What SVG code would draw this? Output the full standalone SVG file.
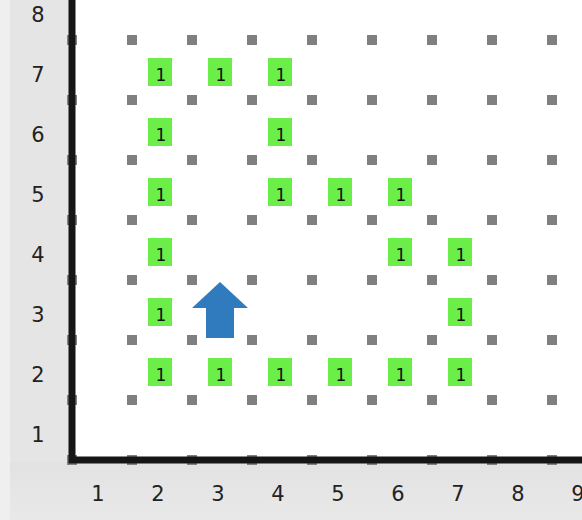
<svg xmlns="http://www.w3.org/2000/svg" width="582" height="520" viewBox="0 0 582 520">
<defs>
<style>
.dot{fill:#808080}
.bp rect{fill:#6cee48}
.bp text{font-family:"DejaVu Sans",sans-serif;font-size:17px;fill:#111;text-anchor:middle}
.lab{font-family:"DejaVu Sans",sans-serif;font-size:21px;fill:#222;text-anchor:middle}
.axis{stroke:#151515;stroke-width:7;fill:none}
</style>
<rect id="d" class="dot" x="-5" y="-5" width="10" height="10"/>
<g id="row">
<use href="#d" x="72"/><use href="#d" x="132"/><use href="#d" x="192"/><use href="#d" x="252"/><use href="#d" x="312"/><use href="#d" x="372"/><use href="#d" x="432"/><use href="#d" x="492"/><use href="#d" x="552"/>
</g>
<g id="beeper" class="bp"><rect x="-12" y="-14" width="24" height="28"/><text x="1" y="9">1</text></g>
<linearGradient id="bg" x1="0" y1="0" x2="0" y2="1"><stop offset="0" stop-color="#e2e2e2"/><stop offset="1" stop-color="#e9e9e9"/></linearGradient>
</defs>
<rect x="0" y="0" width="582" height="520" fill="#e5e5e5"/>
<rect x="0" y="462" width="582" height="58" fill="url(#bg)"/>
<rect x="0" y="0" width="10" height="520" fill="#efefef"/>
<rect x="72" y="0" width="510" height="460" fill="#ffffff"/>
<g id="grid">
<use href="#row" y="40"/><use href="#row" y="100"/><use href="#row" y="160"/><use href="#row" y="220"/><use href="#row" y="280"/><use href="#row" y="340"/><use href="#row" y="400"/><use href="#row" y="460"/>
</g>
<path id="axes" class="axis" d="M72,0 V460 H582"/>
<g id="ylabels">
<text class="lab" x="38" y="22">8</text>
<text class="lab" x="38" y="82">7</text>
<text class="lab" x="38" y="142">6</text>
<text class="lab" x="38" y="202">5</text>
<text class="lab" x="38" y="262">4</text>
<text class="lab" x="38" y="322">3</text>
<text class="lab" x="38" y="382">2</text>
<text class="lab" x="38" y="442">1</text>
</g>
<g id="xlabels">
<text class="lab" x="98" y="501">1</text>
<text class="lab" x="158" y="501">2</text>
<text class="lab" x="218" y="501">3</text>
<text class="lab" x="278" y="501">4</text>
<text class="lab" x="338" y="501">5</text>
<text class="lab" x="398" y="501">6</text>
<text class="lab" x="458" y="501">7</text>
<text class="lab" x="518" y="501">8</text>
<text class="lab" x="578" y="501">9</text>
</g>
<g id="beepers">
<g id="b-2-7"><use href="#beeper" x="160" y="72"/></g>
<g id="b-3-7"><use href="#beeper" x="220" y="72"/></g>
<g id="b-4-7"><use href="#beeper" x="280" y="72"/></g>
<g id="b-2-6"><use href="#beeper" x="160" y="132"/></g>
<g id="b-4-6"><use href="#beeper" x="280" y="132"/></g>
<g id="b-2-5"><use href="#beeper" x="160" y="192"/></g>
<g id="b-4-5"><use href="#beeper" x="280" y="192"/></g>
<g id="b-5-5"><use href="#beeper" x="340" y="192"/></g>
<g id="b-6-5"><use href="#beeper" x="400" y="192"/></g>
<g id="b-2-4"><use href="#beeper" x="160" y="252"/></g>
<g id="b-6-4"><use href="#beeper" x="400" y="252"/></g>
<g id="b-7-4"><use href="#beeper" x="460" y="252"/></g>
<g id="b-2-3"><use href="#beeper" x="160" y="312"/></g>
<g id="b-7-3"><use href="#beeper" x="460" y="312"/></g>
<g id="b-2-2"><use href="#beeper" x="160" y="372"/></g>
<g id="b-3-2"><use href="#beeper" x="220" y="372"/></g>
<g id="b-4-2"><use href="#beeper" x="280" y="372"/></g>
<g id="b-5-2"><use href="#beeper" x="340" y="372"/></g>
<g id="b-6-2"><use href="#beeper" x="400" y="372"/></g>
<g id="b-7-2"><use href="#beeper" x="460" y="372"/></g>
</g>
<g id="karel">
<polygon points="220,282 248,308 234,308 234,338 206,338 206,308 192,308" fill="#2f7bbe"/>
</g>
</svg>
